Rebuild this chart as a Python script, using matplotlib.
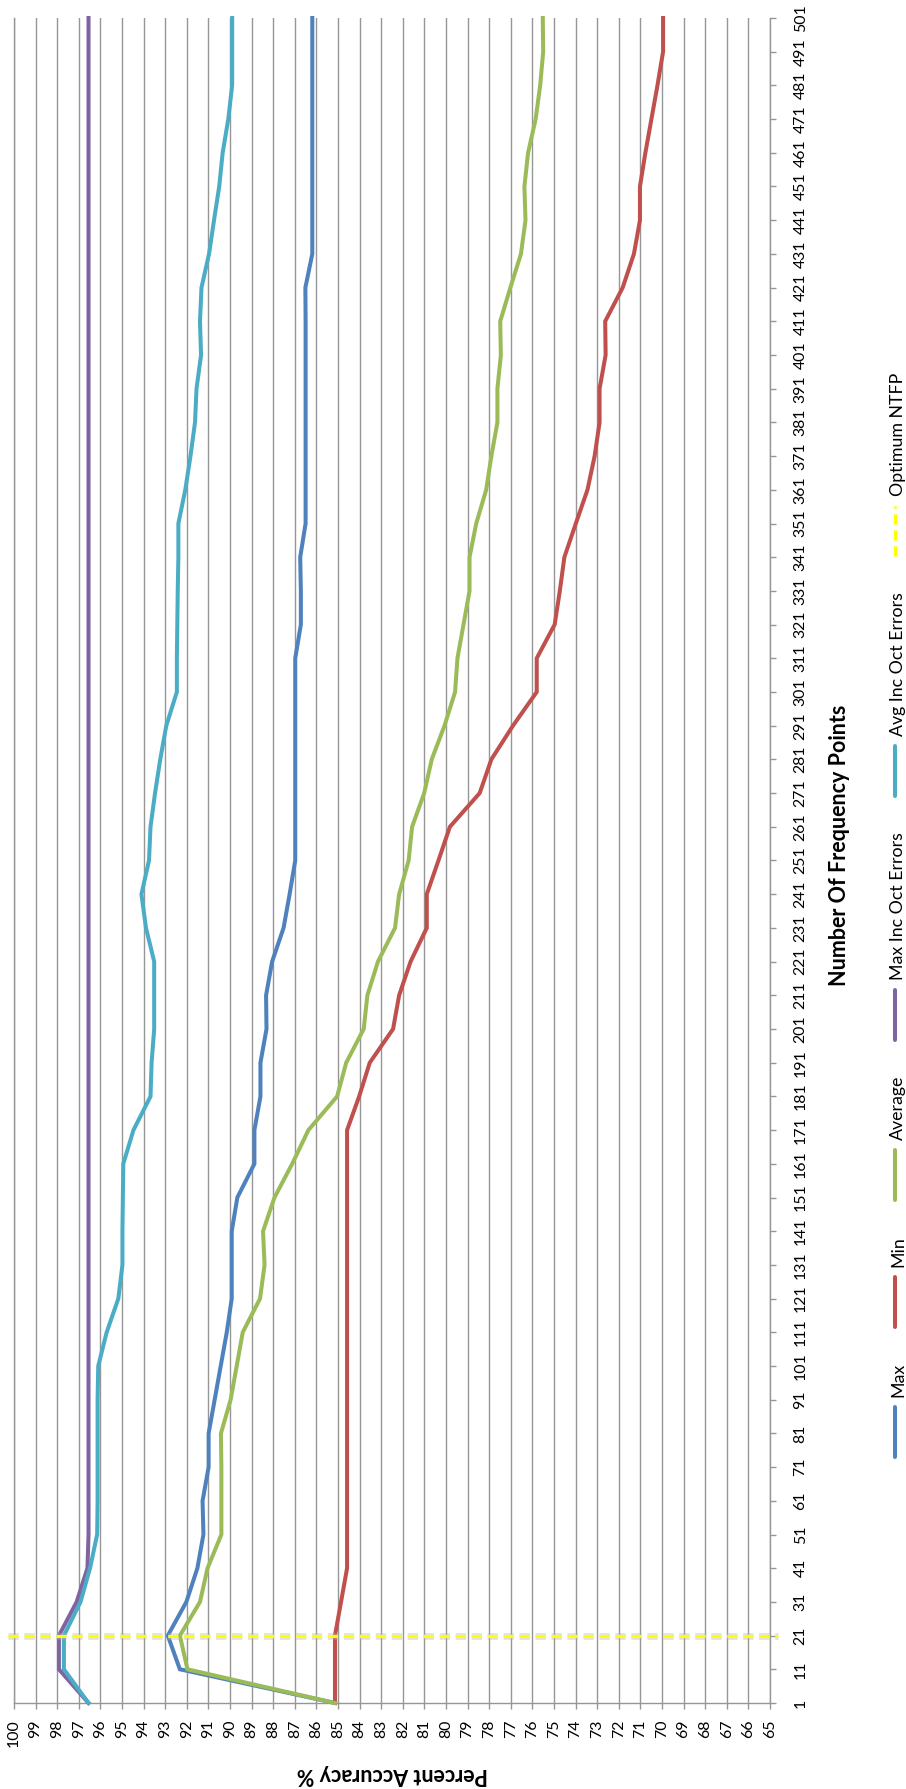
import matplotlib
matplotlib.use("Agg")
import matplotlib.pyplot as plt
import matplotlib.patheffects as pe
import numpy as np

plt.rcParams['font.family'] = ['Lato', 'DejaVu Sans']

# ---- data -------------------------------------------------------------
frequency_points = list(range(1, 502, 10))          # 1, 11, ..., 501
accuracy_ticks = list(range(100, 64, -1))            # 100 ... 65

max_acc = [85.14, 92.32, 92.88, 92.02, 91.51, 91.23, 91.27, 90.99, 90.99, 90.71,
           90.43, 90.15, 89.92, 89.92, 89.92, 89.66, 88.87, 88.87, 88.59, 88.59,
           88.31, 88.33, 88.05, 87.52, 87.24, 86.98, 86.98, 86.98, 86.98, 86.98,
           86.98, 86.98, 86.72, 86.72, 86.75, 86.50, 86.50, 86.50, 86.50, 86.50,
           86.50, 86.50, 86.51, 86.19, 86.19, 86.19, 86.19, 86.19, 86.19, 86.19,
           86.19]

min_acc = [85.14, 85.14, 85.14, 84.86, 84.58, 84.58, 84.58, 84.58, 84.58, 84.58,
           84.58, 84.58, 84.58, 84.58, 84.58, 84.58, 84.58, 84.58, 84.02, 83.53,
           82.45, 82.17, 81.64, 80.89, 80.89, 80.35, 79.82, 78.44, 77.90, 76.90,
           75.80, 75.80, 74.97, 74.73, 74.52, 73.99, 73.45, 73.12, 72.89, 72.89,
           72.61, 72.63, 71.82, 71.30, 71.02, 71.02, 70.77, 70.49, 70.21, 69.95,
           69.95]

avg_acc = [85.14, 91.97, 92.32, 91.39, 91.04, 90.40, 90.40, 90.40, 90.42, 89.97,
           89.69, 89.41, 88.61, 88.40, 88.47, 87.94, 87.12, 86.37, 85.04, 84.62,
           83.81, 83.64, 83.15, 82.36, 82.17, 81.73, 81.57, 81.01, 80.66, 80.07,
           79.58, 79.47, 79.19, 78.91, 78.91, 78.60, 78.14, 77.90, 77.62, 77.62,
           77.46, 77.49, 77.02, 76.53, 76.32, 76.37, 76.20, 75.85, 75.64, 75.50,
           75.52]

max_inc_oct = [96.55, 97.92, 97.92, 97.10, 96.60] + [96.55] * 46

avg_inc_oct = [96.55, 97.69, 97.69, 96.92, 96.48, 96.15, 96.13, 96.13, 96.13, 96.13,
               96.10, 95.71, 95.17, 94.98, 94.98, 94.96, 94.94, 94.47, 93.68, 93.63,
               93.51, 93.51, 93.51, 93.89, 94.10, 93.75, 93.68, 93.47, 93.23, 92.95,
               92.46, 92.46, 92.44, 92.42, 92.39, 92.39, 92.07, 91.83, 91.62, 91.55,
               91.34, 91.39, 91.32, 90.97, 90.74, 90.50, 90.34, 90.08, 89.90, 89.90,
               89.90]

optimum_ntfp = 21

series_names = ["Max", "Min", "Average", "Max Inc Oct Errors", "Avg Inc Oct Errors"]
series_colors = ["#4F81BD", "#C0504D", "#9BBB59", "#8064A2", "#4BACC6"]
optimum_name = "Optimum NTFP"
optimum_color = "#FFFF00"

# ---- layout -----------------------------------------------------------
W, H = 906, 1789
plot_left, plot_right = 14, 770
plot_top, plot_bottom = 18, 1703
grid_color = "#969696"
line_w = 2.9

fig = plt.figure(figsize=(W / 100, H / 100), dpi=100)
fig.patch.set_facecolor("white")
ax = fig.add_axes([plot_left / W, 1 - plot_bottom / H,
                   (plot_right - plot_left) / W, (plot_bottom - plot_top) / H])

pos = np.arange(len(frequency_points))
ax.set_xlim(accuracy_ticks[0], accuracy_ticks[-1])
ax.set_ylim(pos[0], pos[-1])

ax.set_xticks(accuracy_ticks)
ax.set_xticklabels([str(v) for v in accuracy_ticks], rotation=90, fontsize=11.4)
ax.yaxis.tick_right()
ax.set_yticks(pos)
ax.set_yticklabels([str(f) for f in frequency_points], rotation=90,
                   va="center", fontsize=11.4)
ax.tick_params(axis="x", direction="out", length=4, width=1.0, color=grid_color,
               pad=8, labelcolor="black")
ax.tick_params(axis="y", direction="out", length=4.5, width=1.0, color=grid_color,
               pad=12.5, labelcolor="black")

ax.grid(axis="x", color=grid_color, lw=1.0)
ax.set_axisbelow(True)
ax.spines["top"].set_visible(False)
for side in ("left", "bottom", "right"):
    ax.spines[side].set_color(grid_color)
    ax.spines[side].set_linewidth(1.0)

series = [max_acc, min_acc, avg_acc, max_inc_oct, avg_inc_oct]
for vals, col in zip(series, series_colors):
    ax.plot(vals, pos, color=col, lw=line_w, clip_on=False, zorder=3,
            solid_joinstyle="miter")

opt_idx = frequency_points.index(optimum_ntfp)
ax.axhline(opt_idx, xmin=-0.008, xmax=1.01, color=optimum_color, lw=2.3,
           ls=(0, (3.2, 1.8)), clip_on=False, zorder=4,
           path_effects=[pe.SimpleLineShadow(offset=(0, 0), shadow_color="#b0b0b0",
                                             alpha=0.35, linewidth=5),
                         pe.Normal()])

# ---- axis titles --------------------------------------------------------
fig.text(392 / W, 1 - 1775 / H, "Percent Accuracy %", rotation=180,
         ha="center", va="center", fontsize=15.5, fontweight="bold")
fig.text(840 / W, 1 - 845 / H, "Number Of Frequency Points", rotation=90,
         ha="center", va="center", fontsize=15.5, fontweight="bold")

# ---- legend (vertical, reading bottom to top) ----------------------------
lax = fig.add_axes([0, 0, 1, 1], zorder=5)
lax.set_xlim(0, W)
lax.set_ylim(H, 0)
lax.axis("off")
lax.patch.set_alpha(0)

renderer = fig.canvas.get_renderer()
legend_x = 895
legend_text_x = 898
seg_len, text_gap, entry_gap = 50, 10, 36
y = 1457
entries = list(zip(series_names, series_colors, ["-"] * 5))
entries.append((optimum_name, optimum_color, (0, (3.2, 1.8))))
for name, col, style in entries:
    lw = line_w if style == "-" else 2.3
    lax.plot([legend_x, legend_x], [y, y - seg_len], color=col, lw=lw, ls=style,
             solid_capstyle="round")
    y -= seg_len + text_gap
    t = lax.text(legend_text_x, y, name, rotation=90, ha="center", va="bottom",
                 fontsize=12.8)
    bb = t.get_window_extent(renderer)
    y -= bb.height + entry_gap

fig.savefig("out.png", dpi=100, facecolor="white")
